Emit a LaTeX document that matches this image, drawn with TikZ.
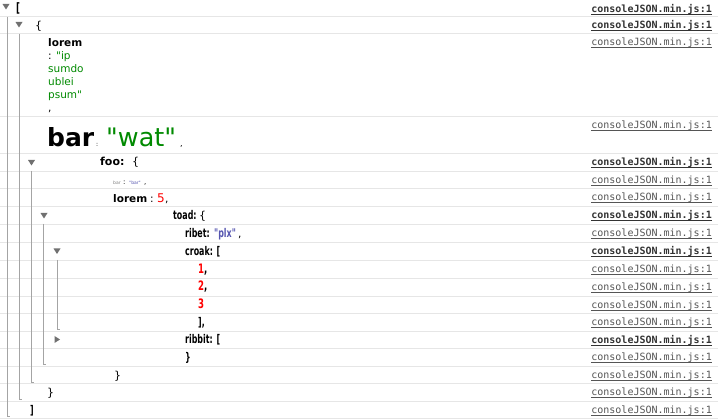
\documentclass[tikz,border=0pt]{standalone}
\usepackage{fontspec}
\setmainfont{DejaVu Sans}[Ligatures=TeXOff]
\newfontfamily\monof{DejaVu Sans Mono}
\newfontfamily\condf{DejaVu Sans}[FakeStretch=0.66,Ligatures=TeXOff]
\newcommand\qt{"}
\definecolor{jgreen}{HTML}{008A00}
\definecolor{jred}{HTML}{FF0000}
\definecolor{jblue}{HTML}{5555B0}
\definecolor{treegray}{HTML}{A4A4A4}
\definecolor{sepgray}{HTML}{E6E6E6}
\definecolor{trigray}{HTML}{707070}
\definecolor{linkbold}{HTML}{333333}
\definecolor{linknorm}{HTML}{555555}
\begin{document}
\begin{tikzpicture}[x=1pt,y=-1pt,
  txt/.style={inner sep=0pt, anchor=base west},
  keyf/.style={txt, font=\bfseries\fontsize{10.5}{13}\selectfont},
  valf/.style={txt, font=\fontsize{10.5}{13}\selectfont},
  condk/.style={txt, font=\condf\bfseries\fontsize{12}{14}\selectfont},
  condn/.style={txt, font=\condf\bfseries\fontsize{13}{15}\selectfont},
  tinyf/.style={txt, font=\fontsize{4.5}{5}\selectfont},
  lnk/.style={inner sep=0pt, anchor=base east, font=\monof\fontsize{10}{12}\selectfont, text=linknorm},
  lnkb/.style={lnk, font=\monof\bfseries\fontsize{10}{12}\selectfont, text=linkbold},
  uline/.style={draw=linknorm, line width=0.7pt},
  ulineb/.style={draw=linkbold, line width=0.9pt},
  tree/.style={draw=treegray, line width=1pt},
  sepline/.style={draw=sepgray, line width=0.8pt},
  tridown/.pic={\fill[trigray] (-3.5,-2.5) -- (3.5,-2.5) -- (0,3) -- cycle;},
  triright/.pic={\fill[trigray] (-2.5,-3.5) -- (-2.5,3.5) -- (3,0) -- cycle;}
]
\useasboundingbox (0,0) rectangle (718,419);
\fill[white] (0,0) rectangle (718,419);

% row separators
\foreach \yy in {16.5,33.5,116.5,153.5,171,188.5,206,224,242,260,278,296,313.5,331,348.5,366,383.5,401,418}
  \draw[sepline] (0,\yy) -- (718,\yy);

% tree guide lines
\coordinate (g1a) at (7,17);   \coordinate (g1b) at (10,417);
\coordinate (g2a) at (19,34);  \coordinate (g2b) at (22,400);
\coordinate (g3a) at (31,171); \coordinate (g3b) at (34,383);
\coordinate (g4a) at (43,224); \coordinate (g4b) at (46,365);
\coordinate (g5a) at (57,260); \coordinate (g5b) at (60,330);
\draw[tree] (g1a) |- (g1b);
\draw[tree] (g2a) |- (g2b);
\draw[tree] (g3a) |- (g3b);
\draw[tree] (g4a) |- (g4b);
\draw[tree] (g5a) |- (g5b);

% disclosure triangles
\pic at (6,6.5) {tridown};
\pic at (19,24.5) {tridown};
\pic at (31.5,162.5) {tridown};
\pic at (44,215.5) {tridown};
\pic at (57,251) {tridown};
\pic at (57,339.5) {triright};

% row 1, 2
\node[condn] (open1) at (16,13) {[};
\node[valf, font=\fontsize{11}{13}\selectfont] (open2) at (35,30) {\{};

% row 3
\node[keyf] (lorem1) at (48,47) {lorem};
\node[valf] (ip) at (48,60) {: \textcolor{jgreen}{\qt ip}};
\node[valf, text=jgreen] (sumdo) at (48,73) {sumdo};
\node[valf, text=jgreen] (ublei) at (48,86) {ublei};
\node[valf, text=jgreen] (psum) at (48,99) {psum\qt};
\node[valf] (comma3) at (48,112) {,};

% row 4
\node[txt, font=\bfseries\fontsize{25}{27}\selectfont] (bigbar) at (47,147) {bar};
\node[txt, font=\fontsize{6}{7}\selectfont] (bigcolon) at (96,147) {:};
\node[txt, font=\fontsize{25.5}{27}\selectfont, text=jgreen] (wat) at (106,147) {\qt wat\qt};
\node[txt, font=\fontsize{8}{9}\selectfont] (comma4) at (180,147) {,};

% row 5
\node[keyf, font=\bfseries\fontsize{11}{13}\selectfont] (foo) at (100,166) {foo:};
\node[valf, font=\fontsize{11}{13}\selectfont] (foobrace) at (132,166) {\{};

% row 6
\node[tinyf, text=gray] (smallbar) at (113,185) {bar};
\node[txt, font=\fontsize{7}{8}\selectfont] (smallcolon) at (123,185) {:};
\node[tinyf, text=jblue] (smallval) at (129,185) {\qt bar\qt};
\node[txt, font=\fontsize{7}{8}\selectfont] (comma6) at (144,185) {,};

% row 7
\node[keyf] (lorem2) at (113,203) {lorem};
\node[valf] (colon7) at (150,203) {:};
\node[valf, font=\fontsize{12}{13}\selectfont, text=jred] (five) at (157,203) {5};
\node[valf] (comma7) at (165,203) {,};

% row 8
\node[condk] (toad) at (173,220) {toad:};
\node[valf, font=\fontsize{11}{13}\selectfont] (toadbrace) at (199,220) {\{};

% row 9
\node[condk] (ribet) at (185,238) {ribet:};
\node[condk, text=jblue] (plx) at (214,238) {\qt plx\qt};
\node[valf] (comma9) at (238,238) {,};

% row 10
\node[condk] (croak) at (185,256) {croak: [};

% rows 11-14
\node[condn] (n1) at (198,274) {\textcolor{jred}{1},};
\node[condn] (n2) at (198,291) {\textcolor{jred}{2},};
\node[condn] (n3) at (198,309) {\textcolor{jred}{3}};
\node[condk] (close14) at (198,327) {],};

% row 15, 16
\node[condk] (ribbit) at (185,344) {ribbit: [};
\node[condk] (close16) at (185,362) {\}};

% rows 17-19
\node[valf, font=\fontsize{11}{13}\selectfont] (close17) at (114,380) {\}};
\node[valf, font=\fontsize{11}{13}\selectfont] (close18) at (47,397) {\}};
\node[condk] (close19) at (30,415) {]};

% source links
\foreach \tp/\bb [count=\i] in {0/1,16.5/1,33.5/0,116.5/0,153.5/1,171/0,188.5/0,206/1,224/0,242/1,260/0,278/0,296/0,313.5/0,331/1,348.5/0,366/0,383.5/0,401/0}{
  \ifnum\bb=1
    \node[lnkb] (link\i) at (712,\tp+12.5) {consoleJSON.min.js:1};
    \draw[ulineb] ([yshift=-1.8pt]link\i.base west) -- ([yshift=-1.8pt]link\i.base east);
  \else
    \node[lnk] (link\i) at (712,\tp+12.5) {consoleJSON.min.js:1};
    \draw[uline] ([yshift=-1.8pt]link\i.base west) -- ([yshift=-1.8pt]link\i.base east);
  \fi
}
\end{tikzpicture}
\end{document}
